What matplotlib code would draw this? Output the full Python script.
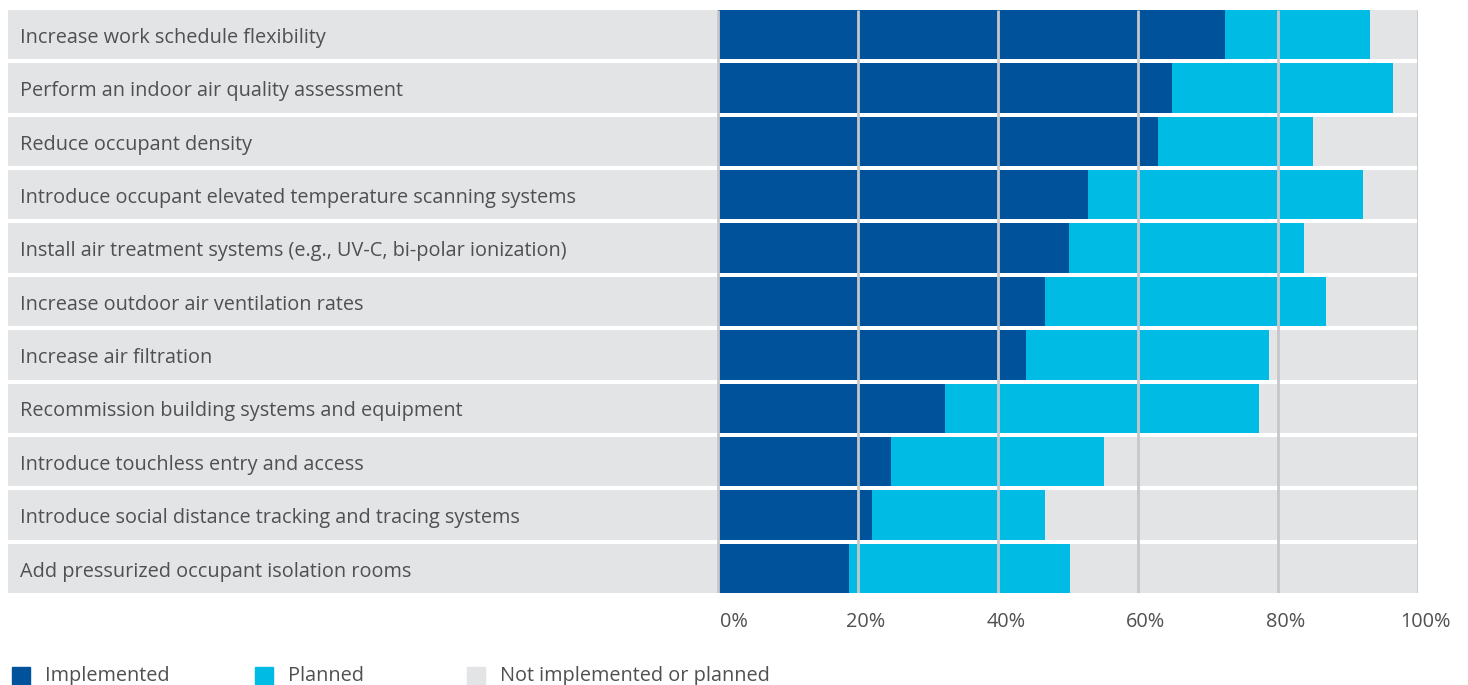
import matplotlib
matplotlib.use("Agg")
from matplotlib import pyplot as plt
from matplotlib.patches import Rectangle

categories = [
    "Increase work schedule flexibility",
    "Perform an indoor air quality assessment",
    "Reduce occupant density",
    "Introduce occupant elevated temperature scanning systems",
    "Install air treatment systems (e.g., UV-C, bi-polar ionization)",
    "Increase outdoor air ventilation rates",
    "Increase air filtration",
    "Recommission building systems and equipment",
    "Introduce touchless entry and access",
    "Introduce social distance tracking and tracing systems",
    "Add pressurized occupant isolation rooms",
]
implemented = [72.4, 64.9, 62.9, 52.9, 50.1, 46.7, 44.0, 32.4, 24.7, 22.0, 18.7]
planned = [20.7, 31.5, 22.1, 39.2, 33.6, 40.2, 34.7, 44.9, 30.4, 24.7, 31.6]
series_names = ["Implemented", "Planned", "Not implemented or planned"]
ticks = [0, 20, 40, 60, 80, 100]

c_impl = "#00529b"
c_plan = "#00bbe4"
c_bg = "#e3e4e6"
c_grid = "#c6c7ca"
c_text = "#505050"
fs = 14.3

plt.rcParams['font.family'] = ['Open Sans', 'DejaVu Sans']

W, H = 1468, 685
fig = plt.figure(figsize=(W / 100, H / 100), dpi=100)

# pixel layout
left_px, zero_px, right_px = 8, 718, 1418
top_px, bot_px = 10, 593
ax = fig.add_axes([left_px / W, 1 - bot_px / H, (right_px - left_px) / W, (bot_px - top_px) / H])

px_per_pct = (right_px - zero_px) / 100
xmin = -(zero_px - left_px) / px_per_pct
n = len(categories)
h = 0.925
ypos = list(range(n))

ax.barh(ypos, 100 - xmin, left=xmin, height=h, color=c_bg, zorder=1)
ax.barh(ypos, implemented, height=h, color=c_impl, zorder=2)
ax.barh(ypos, planned, left=implemented, height=h, color=c_plan, zorder=2)
ax.vlines(ticks, -h / 2, n - 1 + h / 2, color=c_grid, lw=2, zorder=3)

label_x = xmin + (20 - left_px) / px_per_pct
for y, c in zip(ypos, categories):
    ax.text(label_x, y + 0.06, c, va="center", ha="left", fontsize=fs, color=c_text, zorder=4)

ax.set_xlim(xmin, 100)
ax.set_ylim(n - 1 + h / 2, -h / 2)
ax.axis("off")

# tick labels
trans = ax.get_xaxis_transform()
for t in ticks:
    off = 2.3 if t == 0 else 1.1
    ax.text(t + off, -(622 - bot_px) / (bot_px - top_px), f"{t}%", ha="center", va="center",
            fontsize=fs, color=c_text, transform=trans)

# legend
leg_x = [12, 255, 467]
for x, name, col in zip(leg_x, series_names, [c_impl, c_plan, c_bg]):
    fig.patches.append(Rectangle((x / W, 1 - 685 / H), 18 / W, 18 / H, color=col,
                                 transform=fig.transFigure, figure=fig))
    fig.text((x + 33) / W, 1 - 676 / H, name, ha="left", va="center", fontsize=fs, color=c_text)

fig.savefig("out.png", dpi=100)
